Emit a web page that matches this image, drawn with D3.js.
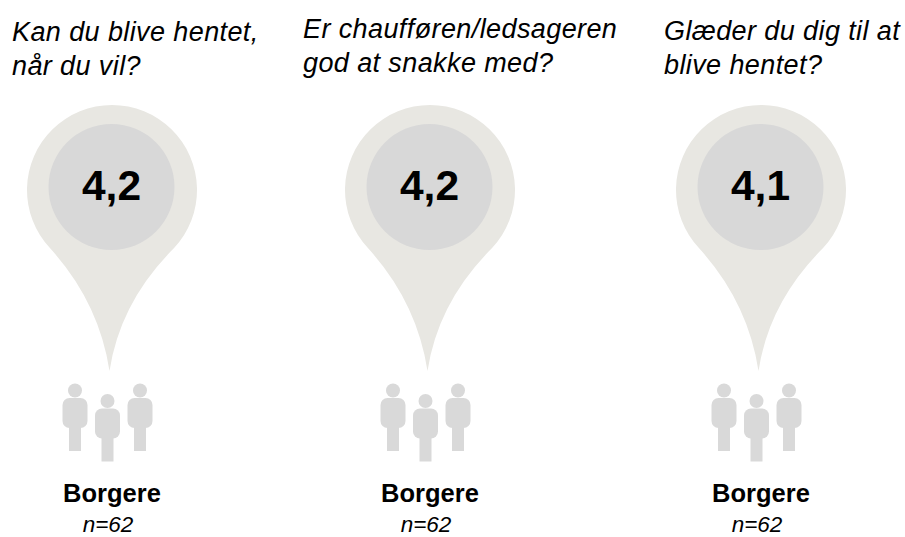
<!DOCTYPE html>
<html>
<head>
<meta charset="utf-8">
<script src="https://cdn.jsdelivr.net/npm/d3@7"></script>
<style>
  body { margin: 0; background: #fff; }
  text { font-family: "Liberation Sans", Arial, sans-serif; fill: #000; }
</style>
</head>
<body>
<div id="chart"></div>
<script>
var svgWidth = 905;
var svgHeight = 537;

// chart data
var questionLines = [
  ["Kan du blive hentet,", "når du vil?"],
  ["Er chaufføren/ledsageren", "god at snakke med?"],
  ["Glæder du dig til at", "blive hentet?"]
];
var scores = [4.2, 4.2, 4.1];
var groupNames = ["Borgere", "Borgere", "Borgere"];
var respondents = [62, 62, 62];

var columns = d3.range(scores.length);

var svg = d3.select("#chart")
  .append("svg")
  .attr("width", svgWidth)
  .attr("height", svgHeight)
  .style("display", "block");

// the columns are not evenly spaced in the picture
var xCenter = d3.scaleOrdinal().domain(columns).range([112, 430, 761]);
var xTitle = d3.scaleOrdinal().domain(columns).range([12, 303, 664]);
var yTitle = d3.scaleOrdinal().domain(columns).range([41, 38, 40]);

var formatScore = d => d3.format(".1f")(d).replace(".", ",");

function pinPath() {
  var r = 85, a = Math.atan2(58, 62);
  var p = d3.path();
  p.moveTo(r * Math.cos(Math.PI - a), r * Math.sin(Math.PI - a));
  p.arc(0, 0, r, Math.PI - a, a, false);
  p.quadraticCurveTo(8, 112, -2.5, 181);
  p.quadraticCurveTo(-13, 112, r * Math.cos(Math.PI - a), r * Math.sin(Math.PI - a));
  p.closePath();
  return p.toString();
}

var column = svg.selectAll("g.column")
  .data(columns)
  .enter()
  .append("g")
  .attr("class", "column");

column.append("path")
  .attr("d", pinPath())
  .attr("transform", d => `translate(${xCenter(d)}, 190)`)
  .attr("fill", "#e8e7e2");

column.append("circle")
  .attr("cx", d => xCenter(d) - 0.5)
  .attr("cy", 187)
  .attr("r", 63)
  .attr("fill", "#d8d8d8");

column.append("text")
  .attr("x", d => xCenter(d) - 0.5)
  .attr("y", 200)
  .attr("text-anchor", "middle")
  .attr("font-size", 42.5)
  .attr("font-weight", "bold")
  .text(d => formatScore(scores[d]));

// question, two lines
column.append("text")
  .attr("font-size", 27)
  .attr("font-style", "italic")
  .attr("letter-spacing", 0.4)
  .selectAll("tspan")
  .data(d => questionLines[d].map((t, i) => ({ t: t, i: i, col: d })))
  .enter()
  .append("tspan")
  .attr("x", d => xTitle(d.col))
  .attr("y", d => yTitle(d.col) + d.i * 34)
  .text(d => d.t);

// three little people
var people = [
  { dx: -37, dy: 0 },
  { dx: -4.5, dy: 10.5 },
  { dx: 28, dy: 0 }
];

var person = column.selectAll("g.person")
  .data(d => people.map(p => ({ x: xCenter(d) + p.dx, y: p.dy })))
  .enter()
  .append("g")
  .attr("class", "person")
  .attr("transform", d => `translate(${d.x}, ${d.y})`)
  .attr("fill", "#d9d9d9");

person.append("circle").attr("cy", 390.5).attr("r", 7);
person.append("rect")
  .attr("x", -12.5).attr("y", 398)
  .attr("width", 25).attr("height", 30)
  .attr("rx", 7);
person.append("rect")
  .attr("x", -6).attr("y", 420)
  .attr("width", 12).attr("height", 31);

column.append("text")
  .attr("x", d => xCenter(d))
  .attr("y", 502)
  .attr("text-anchor", "middle")
  .attr("font-size", 25.5)
  .attr("font-weight", "bold")
  .text(d => groupNames[d]);

column.append("text")
  .attr("x", d => xCenter(d) - 4)
  .attr("y", 531.5)
  .attr("text-anchor", "middle")
  .attr("font-size", 22.5)
  .attr("font-style", "italic")
  .text(d => "n=" + respondents[d]);
</script>
</body>
</html>
